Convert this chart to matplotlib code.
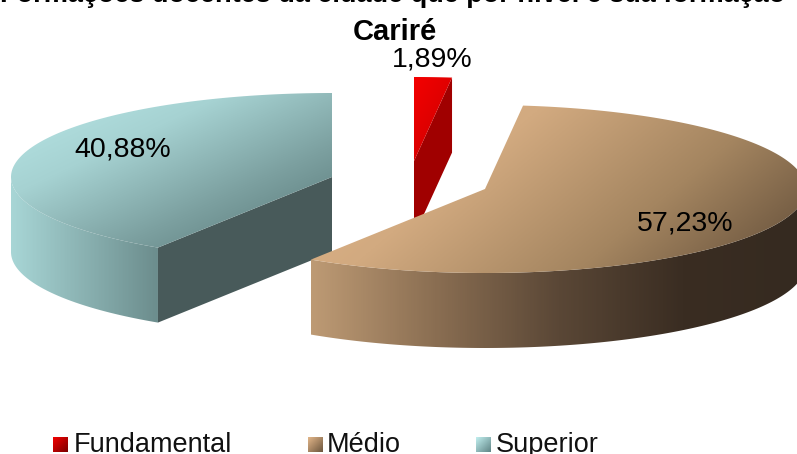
import numpy as np
import matplotlib
matplotlib.use("Agg")
import matplotlib.pyplot as plt
from matplotlib.colors import LinearSegmentedColormap
from matplotlib.patches import Polygon

plt.rcParams['font.family'] = ['Liberation Sans', 'DejaVu Sans']

categories = ["Fundamental", "Médio", "Superior"]
shares = [1.89, 57.23, 40.88]
share_labels = ["1,89%", "57,23%", "40,88%"]
title_cut = "Formações docentes da cidade que por nível e sua formação"
title = "Cariré"

W, H = 797, 454
A, B, DEPTH = 321, 84, 75
# centre of each exploded slice, in pixels
centres = {"Fundamental": (414, 161), "Médio": (485, 189), "Superior": (332, 177)}

fig = plt.figure(figsize=(W / 100, H / 100), dpi=100)
ax = fig.add_axes([0, 0, 1, 1])
ax.set_xlim(0, W)
ax.set_ylim(H, 0)
ax.axis("off")


def rim(c, a0, a1, n=120):
    # angles in degrees, clockwise from 12 o'clock
    t = np.radians(np.linspace(a0, a1, n))
    return np.column_stack([c[0] + A * np.sin(t), c[1] - B * np.cos(t)])


def fill_grad(pts, colors, angle=0, z=1):
    # polygon filled with a linear gradient along the given angle
    pts = np.asarray(pts)
    x0, y0 = pts.min(axis=0)
    x1, y1 = pts.max(axis=0)
    xx, yy = np.meshgrid(np.linspace(x0, x1, 300), np.linspace(y0, y1, 300))
    d = np.cos(np.radians(angle)) * xx + np.sin(np.radians(angle)) * yy
    d = (d - d.min()) / (d.max() - d.min())
    cmap = LinearSegmentedColormap.from_list("g", colors)
    im = ax.imshow(d, extent=[x0, x1, y1, y0], cmap=cmap, zorder=z, aspect="auto", interpolation="bilinear")
    im.set_clip_path(Polygon(pts, closed=True, transform=ax.transData))
    ax.set_xlim(0, W)
    ax.set_ylim(H, 0)


# slice angles come from the shares
ang = np.cumsum([0] + shares) * 3.6
f0, f1 = ang[0], ang[1]
m0, m1 = ang[1], ang[2]
s0, s1 = ang[2], ang[3]

# Superior
c = centres["Superior"]
front = rim(c, s0, 270)
down = front + [0, DEPTH]
fill_grad(np.vstack([front, down[::-1]]), ["#6c8d8d", "#a8d6d6"], angle=180, z=1)
edge = front[0]
ax.add_patch(Polygon([c, edge, edge + [0, DEPTH], [c[0], c[1] + DEPTH]], fc="#485a5a", ec="none", zorder=2))
top = np.vstack([[c], rim(c, s0, 360)])
fill_grad(top, ["#b9e8e8", "#a6d2d2", "#7ca0a0", "#557474"], angle=65, z=3)

# Fundamental
c = centres["Fundamental"]
edge = rim(c, f1, f1, 1)[0]
top = np.vstack([[c], rim(c, f0, f1, 20)])
ax.add_patch(Polygon([c, edge, edge + [0, DEPTH], [c[0], c[1] + DEPTH]], fc="#a00000", ec="none", zorder=4))
fill_grad(top, ["#f40000", "#c80000"], angle=30, z=5)

# Medio
c = centres["Médio"]
front = rim(c, 90, m1)
down = front + [0, DEPTH]
fill_grad(np.vstack([front, down[::-1]]), ["#bd9a74", "#8a6e52", "#5a4736", "#3a2d22", "#352a20"], angle=0, z=6)
top = np.vstack([[c], rim(c, m0, m1, 240)])
fill_grad(top, ["#e3b78a", "#d2aa80", "#a48560", "#5f4b37"], angle=50, z=7)

# texts
ax.text(393, 1.5, title_cut, ha="center", va="baseline", fontsize=19.5, fontweight="bold", zorder=10)
ax.text(395, 32, title, ha="center", va="center", fontsize=21, fontweight="bold", zorder=10)
label_pos = [(432, 59), (685, 223), (123, 149)]
for s, p in zip(share_labels, label_pos):
    ax.text(p[0], p[1], s, ha="center", va="center", fontsize=20.5, zorder=10)

# legend
swatch_x = [53, 308, 476]
text_x = [74, 327, 496]
swatch_colors = [["#f40000", "#7a0000"], ["#e3b78a", "#6b553d"], ["#c2f0f0", "#5f8485"]]
for name, sx, tx, cols in zip(categories, swatch_x, text_x, swatch_colors):
    fill_grad([[sx, 437], [sx + 15, 437], [sx + 15, 452], [sx, 452]], cols, angle=45, z=10)
    ax.text(tx, 445, name, ha="left", va="center", fontsize=19.5, color="#111111", zorder=10)

fig.savefig("out.png", dpi=100, facecolor="white")
plt.close(fig)
